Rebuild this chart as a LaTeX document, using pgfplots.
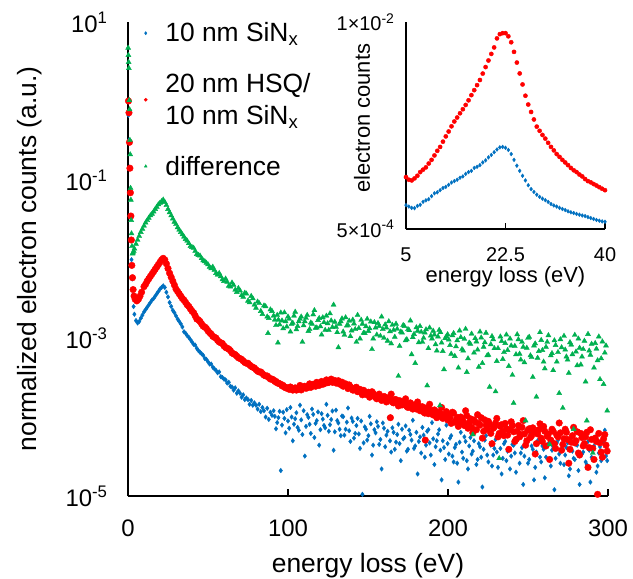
\documentclass[border=0pt]{standalone}
\usepackage{fontspec}
\setmainfont{Liberation Sans}
\usepackage{pgfplots}
\usepackage{pgfplotstable}
\pgfplotsset{compat=1.18}
\definecolor{sblue}{RGB}{0,112,192}
\definecolor{sred}{RGB}{255,0,0}
\definecolor{sgreen}{RGB}{0,176,80}

% main spectra: 10 nm SiNx
\pgfplotstableread{
x y
0.3 0.66
0.6 0.32
0.9 0.145
1.2 0.071
1.5 0.034
1.8 0.0174
2.2 0.0098
2.6 5.6e-3
3.0 3.5e-3
3.5 2.5e-3
4 2.0e-3
5 1.66e-3
6 1.55e-3
7 1.62e-3
8 1.78e-3
9 1.95e-3
10 2.14e-3
11 2.29e-3
12 2.45e-3
13 2.63e-3
14 2.82e-3
15 3.02e-3
16 3.16e-3
17 3.39e-3
18 3.63e-3
19 3.89e-3
20 4.17e-3
21 4.37e-3
22 4.57e-3
23 4.37e-3
24 3.80e-3
25 3.31e-3
26 2.82e-3
27 2.51e-3
28 2.24e-3
29 2.09e-3
30 1.91e-3
31 1.74e-3
32 1.62e-3
33 1.51e-3
34 1.38e-3
35 1.20e-3
36 1.15e-3
37 1.07e-3
38 1.02e-3
39 9.55e-4
40 8.91e-4
41 8.32e-4
42 8.13e-4
43 7.41e-4
44 6.92e-4
45 6.61e-4
46 6.31e-4
47 6.03e-4
48 5.50e-4
49 5.37e-4
50 5.01e-4
51 4.68e-4
52 4.68e-4
53 4.27e-4
54 4.07e-4
55 3.89e-4
56 3.63e-4
57 3.72e-4
58 3.24e-4
59 3.16e-4
60 3.02e-4
61 2.95e-4
62 2.69e-4
63 2.75e-4
64 2.45e-4
65 2.40e-4
66 2.19e-4
67 2.34e-4
68 2.00e-4
69 2.14e-4
70 2.00e-4
71 1.78e-4
72 1.91e-4
73 1.66e-4
74 1.74e-4
75 1.66e-4
76 1.45e-4
77 1.62e-4
78 1.41e-4
79 1.51e-4
80 1.41e-4
81 1.26e-4
82 1.45e-4
83 1.17e-4
84 1.32e-4
85 1.20e-4
86 1.00e-4
87 1.29e-4
88 9.33e-5
89 1.15e-4
90 1.05e-4
91 12.0e-5
92.5 7.1e-5
94 9.8e-5
95.5 2.1e-5
97 11.5e-5
98.5 6.3e-5
100 8.9e-5
101.5 13.2e-5
103 5.0e-5
104.5 9.5e-5
106 7.4e-5
107.5 14.1e-5
109 6.0e-5
110.5 3.2e-5
112 10.7e-5
113.5 8.1e-5
115 12.6e-5
116.5 5.5e-5
118 9.0e-5
119.5 4.4e-5
121 11.0e-5
122.5 7.8e-5
124 14.5e-5
125.5 6.6e-5
127 9.3e-5
128.5 3.8e-5
130 12.2e-5
131.5 8.4e-5
133 5.8e-5
134.5 10.1e-5
136 7.0e-5
137.5 13.0e-5
139 4.9e-5
140.5 8.8e-5
142 6.2e-5
143.5 9.6e-5
145 4.0e-5
146.5 1.05e-5
148 7.5e-5
149.5 5.1e-5
151 10.2e-5
152.5 3.3e-5
154 6.9e-5
155.5 8.7e-5
157 4.5e-5
158.5 2.2e-5
160 7.2e-5
161.5 5.9e-5
163 9.8e-5
164.5 3.6e-5
166 6.4e-5
167.5 4.8e-5
169 8.1e-5
170.5 2.8e-5
172 5.3e-5
173.5 7.7e-5
175 3.9e-5
176.5 6.0e-5
178 9.1e-5
179.5 4.3e-5
181 1.9e-5
182.5 5.6e-5
184 7.4e-5
185.5 3.1e-5
187 6.6e-5
188.5 4.7e-5
190 8.5e-5
191.5 2.5e-5
193 5.0e-5
194.5 6.9e-5
196 1.6e-5
197.5 4.1e-5
199 7.9e-5
200.5 3.4e-5
202 5.8e-5
203.5 2.7e-5
205 4.5e-5
206.5 1.5e-5
208 6.4e-5
209.5 3.0e-5
211 4.9e-5
212.5 2.2e-5
214 5.5e-5
215.5 3.7e-5
217 7.0e-5
218.5 2.9e-5
220 4.2e-5
221.5 1.3e-5
223 5.1e-5
224.5 3.3e-5
226 6.2e-5
227.5 2.4e-5
229 4.0e-5
230.5 3.6e-5
232 5.7e-5
233.5 1.9e-5
235 4.6e-5
236.5 2.8e-5
238 6.6e-5
239.5 3.2e-5
241 4.4e-5
242.5 2.0e-5
244 5.3e-5
245.5 3.5e-5
247 1.4e-5
248.5 4.8e-5
250 2.6e-5
251.5 6.0e-5
253 3.9e-5
254.5 2.3e-5
256 5.0e-5
257.5 3.1e-5
259 4.3e-5
260.5 1.7e-5
262 5.9e-5
263.5 2.9e-5
265 3.8e-5
266.5 1.2e-5
268 4.7e-5
269.5 3.4e-5
271 6.3e-5
272.5 2.5e-5
274 4.1e-5
275.5 1.8e-5
277 5.4e-5
278.5 3.0e-5
280 4.5e-5
281.5 2.1e-5
283 6.1e-5
284.5 3.6e-5
286 2.7e-5
287.5 4.9e-5
289 1.5e-5
290.5 3.9e-5
292 5.6e-5
293.5 2.4e-5
295 4.2e-5
296.5 3.3e-5
298 6.8e-5
299.5 2.8e-5
}\sinx

% 10 nm SiNx, interleaved channels of the noisy tail
\pgfplotstableread{
x y
91.75 10.2e-5
93.25 8.5e-5
94.75 11.8e-5
96.25 7.9e-5
97.75 9.6e-5
99.25 12.4e-5
100.75 7.2e-5
102.25 10.0e-5
103.75 8.1e-5
105.25 11.3e-5
106.75 6.8e-5
108.25 9.2e-5
109.75 12.0e-5
111.25 7.6e-5
112.75 9.9e-5
114.25 6.2e-5
115.75 10.8e-5
117.25 8.3e-5
118.75 11.6e-5
120.25 6.9e-5
121.75 9.4e-5
123.25 7.3e-5
124.75 10.5e-5
126.25 8.0e-5
127.75 11.9e-5
129.25 6.5e-5
130.75 9.0e-5
132.25 7.0e-5
133.75 10.3e-5
135.25 5.9e-5
136.75 8.6e-5
138.25 6.7e-5
139.75 9.7e-5
141.25 5.4e-5
142.75 7.8e-5
144.25 6.1e-5
145.75 8.9e-5
147.25 4.7e-5
148.75 7.0e-5
150.25 5.8e-5
151.75 8.2e-5
153.25 4.4e-5
154.75 6.3e-5
156.25 7.6e-5
157.75 5.2e-5
159.25 8.4e-5
160.75 4.2e-5
162.25 6.6e-5
163.75 5.0e-5
165.25 7.3e-5
166.75 3.9e-5
168.25 6.0e-5
169.75 4.6e-5
171.25 7.0e-5
172.75 5.5e-5
174.25 3.7e-5
175.75 6.8e-5
177.25 5.1e-5
178.75 4.0e-5
180.25 6.4e-5
181.75 4.9e-5
183.25 3.5e-5
184.75 5.9e-5
186.25 4.4e-5
187.75 6.9e-5
189.25 3.3e-5
190.75 5.3e-5
192.25 4.2e-5
193.75 6.1e-5
195.25 3.8e-5
196.75 5.0e-5
198.25 2.9e-5
199.75 4.6e-5
201.25 5.4e-5
202.75 3.2e-5
204.25 4.1e-5
205.75 2.6e-5
207.25 4.8e-5
208.75 3.6e-5
210.25 5.6e-5
211.75 2.8e-5
213.25 4.3e-5
214.75 3.4e-5
216.25 5.0e-5
217.75 2.5e-5
219.25 4.6e-5
220.75 3.1e-5
222.25 3.9e-5
223.75 5.8e-5
225.25 2.7e-5
226.75 4.4e-5
228.25 3.3e-5
229.75 5.2e-5
231.25 2.3e-5
232.75 4.0e-5
234.25 3.0e-5
235.75 4.9e-5
237.25 3.7e-5
238.75 2.2e-5
240.25 4.5e-5
241.75 3.5e-5
243.25 5.4e-5
244.75 2.6e-5
246.25 4.1e-5
247.75 3.2e-5
249.25 4.7e-5
250.75 2.9e-5
252.25 4.3e-5
253.75 1.6e-5
255.25 3.6e-5
256.75 4.8e-5
258.25 2.7e-5
259.75 3.9e-5
261.25 3.1e-5
262.75 4.6e-5
264.25 2.4e-5
265.75 4.2e-5
267.25 3.0e-5
268.75 5.1e-5
270.25 2.6e-5
271.75 3.8e-5
273.25 3.3e-5
274.75 4.7e-5
276.25 2.2e-5
277.75 3.7e-5
279.25 2.9e-5
280.75 4.4e-5
282.25 1.4e-5
283.75 3.4e-5
285.25 4.6e-5
286.75 2.5e-5
288.25 3.8e-5
289.75 3.1e-5
291.25 4.3e-5
292.75 2.0e-5
294.25 3.5e-5
295.75 2.8e-5
297.25 4.9e-5
298.75 3.2e-5
}\sinxb

% main spectra: 20 nm HSQ / 10 nm SiNx
\pgfplotstableread{
x y
0.3 1.0
0.6 0.71
0.9 0.30
1.2 0.141
1.5 0.069
1.8 0.035
2.1 0.0174
2.4 8.3e-3
2.8 5.8e-3
3.2 4.1e-3
3.8 3.39e-3
4.5 3.09e-3
5.5 2.95e-3
6.5 3.09e-3
7.5 3.39e-3
8.5 3.80e-3
10 4.47e-3
11 4.79e-3
12 5.25e-3
13 5.62e-3
14 6.03e-3
15 6.46e-3
16 6.92e-3
17 7.41e-3
18 7.94e-3
19 8.51e-3
20 9.12e-3
21 9.77e-3
22 1.02e-2
23 9.77e-3
24 8.71e-3
25 7.59e-3
26 6.61e-3
27 5.89e-3
28 5.25e-3
29 4.68e-3
30 4.17e-3
31 3.89e-3
32 3.63e-3
33 3.39e-3
34 3.16e-3
35 3.02e-3
36 2.82e-3
37 2.63e-3
38 2.51e-3
39 2.34e-3
40 2.19e-3
41 2.09e-3
42 1.91e-3
43 1.74e-3
44 1.70e-3
45 1.62e-3
46 1.51e-3
47 1.41e-3
48 1.38e-3
49 1.32e-3
50 1.23e-3
51 1.17e-3
52 1.12e-3
53 1.05e-3
54 1.02e-3
55 1.00e-3
56 9.33e-4
57 8.91e-4
58 8.71e-4
59 8.51e-4
60 7.94e-4
61 7.59e-4
62 7.41e-4
63 7.24e-4
64 6.92e-4
65 6.46e-4
66 6.31e-4
67 6.17e-4
68 5.89e-4
69 5.62e-4
70 5.50e-4
71 5.37e-4
72 5.13e-4
73 4.90e-4
74 4.79e-4
75 4.79e-4
76 4.57e-4
77 4.37e-4
78 4.27e-4
79 4.17e-4
80 3.98e-4
81 3.80e-4
82 3.72e-4
83 3.72e-4
84 3.55e-4
85 3.39e-4
86 3.31e-4
87 3.31e-4
88 3.16e-4
89 3.02e-4
90 3.02e-4
91 2.95e-4
92.5 2.82e-4
94 2.69e-4
95.5 2.60e-4
97 2.51e-4
98.5 2.34e-4
100 2.29e-4
101.5 2.40e-4
103 2.19e-4
104.5 2.34e-4
106 2.24e-4
107.5 2.51e-4
109 2.29e-4
110.5 2.45e-4
112 2.34e-4
113.5 2.63e-4
115 2.45e-4
116.5 2.57e-4
118 2.75e-4
119.5 2.51e-4
121 2.82e-4
122.5 2.63e-4
124 2.95e-4
125.5 2.75e-4
127 3.02e-4
128.5 2.82e-4
130 2.69e-4
131.5 2.88e-4
133 2.57e-4
134.5 2.45e-4
136 2.63e-4
137.5 2.29e-4
139 2.40e-4
140.5 2.19e-4
142 2.34e-4
143.5 2.09e-4
145 2.24e-4
146.5 1.91e-4
148 2.09e-4
149.5 2.00e-4
151 1.78e-4
152.5 2.09e-4
154 1.86e-4
155.5 1.70e-4
157 1.95e-4
158.5 1.62e-4
160 1.82e-4
161.5 1.55e-4
163 1.74e-4
164 9.8e-5
164.5 1.95e-4
166 1.51e-4
167.5 1.66e-4
169 1.38e-4
170.5 1.58e-4
172 1.45e-4
173.5 1.70e-4
175 1.32e-4
176.5 1.51e-4
178 1.26e-4
179.5 1.41e-4
181 1.55e-4
182.5 1.20e-4
184 1.35e-4
185.5 1.12e-4
185.8 5.1e-5
187 1.29e-4
188.5 1.45e-4
190 1.10e-4
191.5 1.23e-4
193 0.98e-4
194.5 1.15e-4
196 1.32e-4
197.5 1.02e-4
199 1.17e-4
200.5 10.5e-5
202 8.3e-5
203.5 11.2e-5
205 9.1e-5
206.5 7.6e-5
208 10.0e-5
209.5 8.8e-5
211 12.0e-5
212.5 7.2e-5
214 9.5e-5
215.5 6.3e-5
217 8.6e-5
218.5 10.7e-5
220 7.9e-5
221.5 5.4e-5
223 9.2e-5
224.5 7.0e-5
226 8.1e-5
227.5 4.6e-5
229 7.5e-5
230.5 9.6e-5
232 6.2e-5
233.5 8.0e-5
235 5.8e-5
236.5 7.1e-5
238 3.9e-5
239.5 8.7e-5
241 6.5e-5
242.5 5.2e-5
244 7.8e-5
245.5 6.0e-5
247 9.0e-5
248.5 4.4e-5
250 6.8e-5
251.5 5.5e-5
253 7.3e-5
254.5 3.4e-5
256 6.1e-5
257.5 8.2e-5
259 4.9e-5
260.5 6.6e-5
262 5.7e-5
263.5 2.9e-5
265 7.0e-5
266.5 4.6e-5
268 5.9e-5
269.5 8.4e-5
271 3.8e-5
272.5 5.3e-5
274 6.4e-5
275.5 2.6e-5
277 4.8e-5
278.5 7.4e-5
280 5.0e-5
281.5 3.5e-5
283 6.2e-5
284.5 4.3e-5
286 5.6e-5
287.5 2.3e-5
289 6.9e-5
290.5 4.0e-5
292 5.4e-5
293.5 1.05e-5
295 4.7e-5
296.5 3.1e-5
298 6.0e-5
299.5 3.7e-5
}\hsq

% 20 nm HSQ / 10 nm SiNx, interleaved channels
\pgfplotstableread{
x y
91.75 28.2e-5
93.25 27.0e-5
94.75 26.3e-5
96.25 24.8e-5
97.75 24.0e-5
99.25 23.6e-5
100.75 22.4e-5
102.25 23.0e-5
103.75 22.6e-5
105.25 21.9e-5
106.75 23.3e-5
108.25 22.0e-5
109.75 24.0e-5
111.25 23.1e-5
112.75 24.8e-5
114.25 23.7e-5
115.75 26.0e-5
117.25 24.5e-5
118.75 26.3e-5
120.25 27.0e-5
121.75 26.0e-5
123.25 28.0e-5
124.75 27.2e-5
126.25 28.8e-5
127.75 27.5e-5
129.25 29.0e-5
130.75 27.0e-5
132.25 26.3e-5
133.75 27.6e-5
135.25 25.0e-5
136.75 24.5e-5
138.25 25.5e-5
139.75 23.2e-5
141.25 22.0e-5
142.75 23.8e-5
144.25 21.5e-5
145.75 20.4e-5
147.25 21.8e-5
148.75 19.3e-5
150.25 20.6e-5
151.75 18.8e-5
153.25 19.9e-5
154.75 17.6e-5
156.25 18.5e-5
157.75 17.9e-5
159.25 16.8e-5
160.75 17.9e-5
162.25 16.2e-5
163.75 17.0e-5
165.25 15.4e-5
166.75 16.6e-5
168.25 15.0e-5
169.75 16.1e-5
171.25 14.2e-5
172.75 15.5e-5
174.25 13.6e-5
175.75 14.6e-5
177.25 13.1e-5
178.75 14.2e-5
180.25 12.6e-5
181.75 13.8e-5
183.25 12.3e-5
184.75 11.6e-5
186.25 13.0e-5
187.75 11.0e-5
189.25 12.2e-5
190.75 10.6e-5
192.25 11.8e-5
193.75 10.2e-5
195.25 11.0e-5
196.75 9.6e-5
198.25 10.8e-5
199.75 9.2e-5
201.25 9.8e-5
202.75 11.5e-5
204.25 8.6e-5
205.75 9.9e-5
207.25 8.2e-5
208.75 9.4e-5
210.25 7.8e-5
211.75 10.4e-5
213.25 8.5e-5
214.75 7.4e-5
216.25 9.2e-5
217.75 6.9e-5
219.25 8.3e-5
220.75 9.8e-5
222.25 6.6e-5
223.75 7.9e-5
225.25 8.8e-5
226.75 6.2e-5
228.25 7.2e-5
229.75 8.4e-5
231.25 5.6e-5
232.75 7.6e-5
234.25 6.5e-5
235.75 8.3e-5
237.25 5.9e-5
238.75 6.9e-5
240.25 7.8e-5
241.75 4.9e-5
243.25 6.6e-5
244.75 5.6e-5
246.25 7.4e-5
247.75 6.1e-5
249.25 5.0e-5
250.75 7.1e-5
252.25 5.8e-5
253.75 6.5e-5
255.25 4.6e-5
256.75 6.9e-5
258.25 5.4e-5
259.75 7.6e-5
261.25 4.3e-5
262.75 6.1e-5
264.25 5.1e-5
265.75 6.6e-5
267.25 4.0e-5
268.75 5.6e-5
270.25 6.3e-5
271.75 4.5e-5
273.25 7.0e-5
274.75 5.2e-5
276.25 3.9e-5
277.75 5.8e-5
279.25 4.7e-5
280.75 6.5e-5
282.25 3.3e-5
283.75 5.5e-5
285.25 4.6e-5
286.75 6.4e-5
288.25 4.1e-5
289.75 5.2e-5
291.25 2.9e-5
292.75 4.9e-5
294.25 6.2e-5
295.75 3.6e-5
297.25 5.3e-5
298.75 4.4e-5
}\hsqb

% main spectra: difference
\pgfplotstableread{
x y
0.1 4.7
0.25 3.8
0.4 3.1
0.55 2.6
0.8 1.02
1.0 0.78
1.2 0.32
1.4 0.21
1.6 0.079
1.8 0.056
2.0 0.031
2.2 0.021
2.5 0.0145
2.8 0.0117
3.2 0.0120
3.6 0.0126
4 1.35e-2
5 1.55e-2
6 1.74e-2
7 1.95e-2
8 2.19e-2
9 2.40e-2
10 2.63e-2
11 2.88e-2
12 3.09e-2
13 3.31e-2
14 3.55e-2
15 3.72e-2
16 3.98e-2
17 4.27e-2
18 4.57e-2
19 4.90e-2
20 5.13e-2
21 5.37e-2
22 5.62e-2
23 5.25e-2
24 4.79e-2
25 4.27e-2
26 3.89e-2
27 3.55e-2
28 3.24e-2
29 2.95e-2
30 2.75e-2
31 2.51e-2
32 2.34e-2
33 2.19e-2
34 2.04e-2
35 1.91e-2
36 1.78e-2
37 1.70e-2
38 1.58e-2
39 1.45e-2
40 1.41e-2
41 1.38e-2
42 1.26e-2
43 1.15e-2
44 1.12e-2
45 1.10e-2
46 1.02e-2
47 9.55e-3
48 9.33e-3
49 8.91e-3
50 8.51e-3
51 7.94e-3
52 7.59e-3
53 7.94e-3
54 7.24e-3
55 6.61e-3
56 6.31e-3
57 6.61e-3
58 6.03e-3
59 5.50e-3
60 5.25e-3
61 5.62e-3
62 5.13e-3
63 4.57e-3
64 4.47e-3
65 5.01e-3
66 4.68e-3
67 4.07e-3
68 3.80e-3
69 4.27e-3
70 3.98e-3
71 3.47e-3
72 3.31e-3
73 3.72e-3
74 3.63e-3
75 2.95e-3
76 2.82e-3
77 3.39e-3
78 3.16e-3
79 2.63e-3
80 2.40e-3
81 2.88e-3
82 2.75e-3
83 2.19e-3
84 2.00e-3
85 2.57e-3
86 2.51e-3
87 1.86e-3
87.5 1.15e-3
88 1.78e-3
89 2.29e-3
90 2.19e-3
91 1.91e-3
92.5 1.45e-3
93.7 8.7e-4
94 1.70e-3
95.5 2.09e-3
97 1.32e-3
98.5 1.62e-3
100 1.86e-3
101.5 1.20e-3
103 1.55e-3
104.5 2.14e-3
106 1.41e-3
107.5 1.74e-3
109 0.89e-3
110.5 1.62e-3
112 1.95e-3
113.5 1.29e-3
115 1.51e-3
116.5 2.24e-3
118 1.35e-3
119.5 1.78e-3
121 1.10e-3
122.5 1.58e-3
124 1.91e-3
125.5 1.26e-3
127 1.66e-3
128.5 2.63e-3
130 1.38e-3
131.5 0.76e-3
133 1.62e-3
134.5 1.20e-3
136 1.82e-3
137.5 1.45e-3
139 1.05e-3
140.5 1.70e-3
142 1.29e-3
143.5 1.95e-3
145 0.98e-3
146.5 1.51e-3
148 1.15e-3
149.5 1.74e-3
151 1.32e-3
152.5 0.72e-3
154 1.58e-3
155.5 1.10e-3
157 1.41e-3
158.5 1.86e-3
160 1.00e-3
161.5 1.35e-3
163 1.62e-3
164.5 0.85e-3
166 1.26e-3
167.5 1.51e-3
169 0.33e-3
170.5 1.20e-3
172 1.45e-3
173.5 0.93e-3
175 1.29e-3
176.5 1.66e-3
178 1.02e-3
179.5 0.48e-3
181 1.23e-3
182.5 1.41e-3
184 0.89e-3
185.5 1.17e-3
187 0.25e-3
188.5 1.35e-3
190 0.98e-3
191.5 1.10e-3
193 0.69e-3
194.5 1.26e-3
195 1.4e-4
196 0.87e-3
197.5 0.40e-3
199 1.05e-3
200.5 9.5e-4
202 6.3e-4
203.5 11.5e-4
205 7.8e-4
206.5 4.2e-4
208 10.2e-4
209.5 6.9e-4
211 13.0e-4
212.5 5.5e-4
214 8.4e-4
215.5 0.6e-4
217 9.9e-4
218.5 7.1e-4
220 12.0e-4
221.5 4.8e-4
223 8.8e-4
224.5 6.0e-4
226 2.4e-4
227.5 10.5e-4
229 7.4e-4
230.5 5.1e-4
232 0.3e-4
233.5 9.1e-4
235 6.6e-4
236.5 11.0e-4
238 4.4e-4
239.5 8.0e-4
241 1.5e-4
242.5 6.2e-4
244 9.6e-4
245.5 5.3e-4
247 7.7e-4
248.5 0.9e-4
250 10.0e-4
251.5 6.0e-4
253 3.2e-4
254.5 8.5e-4
256 5.6e-4
257.5 11.8e-4
259 7.0e-4
260.5 4.1e-4
262 8.9e-4
263.5 0.45e-4
265 6.4e-4
266.5 9.3e-4
268 5.0e-4
269.5 2.0e-4
271 7.6e-4
272.5 10.6e-4
274 5.8e-4
275.5 3.6e-4
277 8.2e-4
278.5 0.7e-4
280 6.7e-4
281.5 9.8e-4
283 4.6e-4
284.5 7.2e-4
286 2.8e-4
287.5 11.2e-4
289 6.1e-4
290.5 0.35e-4
292 8.6e-4
293.5 5.2e-4
295 3.0e-4
296.5 9.0e-4
298 6.5e-4
299.5 1.2e-4
}\diff

% difference, interleaved channels
\pgfplotstableread{
x y
91.75 17.0e-4
93.25 19.5e-4
94.75 14.8e-4
96.25 16.6e-4
97.75 21.0e-4
99.25 13.9e-4
100.75 17.4e-4
102.25 15.0e-4
103.75 19.1e-4
105.25 12.8e-4
106.75 16.2e-4
108.25 18.6e-4
109.75 14.4e-4
111.25 17.9e-4
112.75 12.2e-4
114.25 15.6e-4
115.75 19.8e-4
117.25 13.4e-4
118.75 16.8e-4
120.25 14.0e-4
121.75 18.2e-4
123.25 12.6e-4
124.75 15.3e-4
126.25 20.4e-4
127.75 13.7e-4
129.25 16.0e-4
130.75 11.8e-4
132.25 15.1e-4
133.75 17.6e-4
135.25 10.9e-4
136.75 14.3e-4
138.25 16.5e-4
139.75 12.4e-4
141.25 15.2e-4
142.75 8.9e-4
144.25 13.3e-4
145.75 16.9e-4
147.25 11.6e-4
148.75 14.0e-4
150.25 12.2e-4
151.75 16.1e-4
153.25 9.8e-4
154.75 13.5e-4
156.25 15.4e-4
157.75 10.6e-4
159.25 12.9e-4
160.75 14.8e-4
162.25 9.2e-4
163.75 12.1e-4
165.25 14.6e-4
166.75 10.3e-4
168.25 13.0e-4
169.75 7.9e-4
171.25 11.7e-4
172.75 14.1e-4
174.25 9.6e-4
175.75 12.5e-4
177.25 6.2e-4
178.75 11.2e-4
180.25 13.6e-4
181.75 8.8e-4
183.25 11.9e-4
184.75 10.0e-4
186.25 12.8e-4
187.75 7.4e-4
189.25 10.7e-4
190.75 12.3e-4
192.25 8.3e-4
193.75 10.4e-4
195.25 11.8e-4
196.75 6.8e-4
198.25 9.9e-4
199.75 11.1e-4
201.25 8.1e-4
202.75 10.8e-4
204.25 5.9e-4
205.75 9.3e-4
207.25 12.4e-4
208.75 7.2e-4
210.25 9.7e-4
211.75 3.7e-4
213.25 8.7e-4
214.75 11.3e-4
216.25 6.5e-4
217.75 9.0e-4
219.25 4.3e-4
220.75 10.1e-4
222.25 7.7e-4
223.75 11.6e-4
225.25 6.1e-4
226.75 8.3e-4
228.25 9.6e-4
229.75 2.1e-4
231.25 7.4e-4
232.75 10.4e-4
234.25 5.4e-4
235.75 8.6e-4
237.25 7.0e-4
238.75 9.8e-4
240.25 3.4e-4
241.75 7.9e-4
243.25 11.1e-4
244.75 6.3e-4
246.25 8.9e-4
247.75 4.9e-4
249.25 7.5e-4
250.75 10.3e-4
252.25 5.7e-4
253.75 8.0e-4
255.25 1.8e-4
256.75 6.8e-4
258.25 9.4e-4
259.75 5.0e-4
261.25 7.7e-4
262.75 10.8e-4
264.25 6.0e-4
265.75 3.9e-4
267.25 8.1e-4
268.75 6.6e-4
270.25 9.6e-4
271.75 1.3e-4
273.25 7.1e-4
274.75 5.3e-4
276.25 8.8e-4
277.75 6.2e-4
279.25 10.9e-4
280.75 4.5e-4
282.25 7.5e-4
283.75 5.8e-4
285.25 9.2e-4
286.75 0.9e-4
288.25 6.9e-4
289.75 8.4e-4
291.25 4.2e-4
292.75 7.3e-4
294.25 10.4e-4
295.75 5.5e-4
297.25 2.6e-4
298.75 8.0e-4
}\diffb

% inset, 5-40 eV
\pgfplotstableread{
x y
5.0 7.06e-4
5.5 6.92e-4
6.0 6.79e-4
6.5 6.76e-4
7.0 6.98e-4
7.5 7.10e-4
8.0 7.41e-4
8.5 7.57e-4
9.0 7.70e-4
9.5 8.04e-4
10.0 8.38e-4
10.5 8.50e-4
11.0 8.77e-4
11.5 9.05e-4
12.0 9.20e-4
12.5 9.48e-4
13.0 9.80e-4
13.5 1.00e-3
14.0 1.02e-3
14.5 1.05e-3
15.0 1.07e-3
15.5 1.11e-3
16.0 1.14e-3
16.5 1.16e-3
17.0 1.21e-3
17.5 1.23e-3
18.0 1.26e-3
18.5 1.31e-3
19.0 1.35e-3
19.5 1.41e-3
20.0 1.46e-3
20.5 1.52e-3
21.0 1.58e-3
21.5 1.63e-3
22.0 1.64e-3
22.5 1.62e-3
23.0 1.57e-3
23.5 1.48e-3
24.0 1.36e-3
24.5 1.25e-3
25.0 1.16e-3
25.5 1.08e-3
26.0 1.01e-3
26.5 9.42e-4
27.0 8.91e-4
27.5 8.55e-4
28.0 8.22e-4
28.5 7.96e-4
29.0 7.76e-4
29.5 7.59e-4
30.0 7.40e-4
30.5 7.18e-4
31.0 7.03e-4
31.5 6.92e-4
32.0 6.79e-4
32.5 6.68e-4
33.0 6.58e-4
33.5 6.46e-4
34.0 6.37e-4
34.5 6.30e-4
35.0 6.22e-4
35.5 6.15e-4
36.0 6.08e-4
36.5 6.03e-4
37.0 5.94e-4
37.5 5.86e-4
38.0 5.78e-4
38.5 5.70e-4
39.0 5.64e-4
39.5 5.58e-4
40.0 5.55e-4
}\insetsinx

\pgfplotstableread{
x y
5.0 1.06e-3
5.5 1.02e-3
6.0 1.01e-3
6.5 1.04e-3
7.0 1.08e-3
7.5 1.14e-3
8.0 1.18e-3
8.5 1.22e-3
9.0 1.29e-3
9.5 1.36e-3
10.0 1.45e-3
10.5 1.55e-3
11.0 1.64e-3
11.5 1.77e-3
12.0 1.91e-3
12.5 2.05e-3
13.0 2.21e-3
13.5 2.37e-3
14.0 2.51e-3
14.5 2.67e-3
15.0 2.83e-3
15.5 3.01e-3
16.0 3.22e-3
16.5 3.47e-3
17.0 3.73e-3
17.5 4.01e-3
18.0 4.32e-3
18.5 4.74e-3
19.0 5.21e-3
19.5 5.73e-3
20.0 6.30e-3
20.5 6.92e-3
21.0 7.89e-3
21.5 8.39e-3
22.0 8.51e-3
22.5 8.51e-3
23.0 8.13e-3
23.5 7.46e-3
24.0 6.49e-3
24.5 5.56e-3
25.0 4.75e-3
25.5 4.05e-3
26.0 3.44e-3
26.5 3.03e-3
27.0 2.72e-3
27.5 2.44e-3
28.0 2.20e-3
28.5 2.07e-3
29.0 1.95e-3
29.5 1.85e-3
30.0 1.74e-3
30.5 1.64e-3
31.0 1.56e-3
31.5 1.48e-3
32.0 1.42e-3
32.5 1.36e-3
33.0 1.31e-3
33.5 1.26e-3
34.0 1.21e-3
34.5 1.17e-3
35.0 1.14e-3
35.5 1.10e-3
36.0 1.07e-3
36.5 1.03e-3
37.0 1.00e-3
37.5 9.82e-4
38.0 9.59e-4
38.5 9.38e-4
39.0 9.16e-4
39.5 8.95e-4
40.0 8.77e-4
}\insethsq

\begin{document}
\begin{tikzpicture}
\useasboundingbox (0bp,0bp) rectangle (633bp,579bp);

\begin{axis}[
  at={(128bp,83bp)}, anchor=south west,
  scale only axis, width=480bp, height=474bp,
  ymode=log, xmin=0, xmax=300, ymin=1e-5, ymax=10,
  clip=false,
  axis lines=left, axis line style={-, line width=1.6bp},
  tick align=inside, major tick length=7bp,
  every tick/.style={black, line width=1.4bp},
  ytick style={draw=none},
  xtick={0,100,200,300}, xticklabels={0,100,200,300},
  ytick={1e-5,1e-3,1e-1,10},
  yticklabels={10\textsuperscript{-5},10\textsuperscript{-3},10\textsuperscript{-1},10\textsuperscript{1}},
  minor ytick={}, yminorticks=false,
  tick label style={font=\fontsize{24}{28}\selectfont},
  xticklabel style={anchor=center, yshift=-32bp},
  yticklabel style={anchor=east, xshift=-17bp},
  xlabel={energy loss (eV)},
  ylabel={normalized electron counts (a.u.)},
  label style={font=\fontsize{26.5}{30}\selectfont},
  xlabel style={at={(axis description cs:0.5,0)}, anchor=center, yshift=-70bp},
  ylabel style={at={(axis description cs:-0.204,0.5)}, anchor=center},
  legend cell align=left,
  legend style={at={(axis description cs:0.027,1.007)}, anchor=north west,
    draw=none, fill=none, font=\fontsize{26.5}{32}\selectfont,
    cells={align=left}, row sep=26bp,
    /tikz/every odd column/.append style={column sep=16bp}},
  legend image post style={mark size=1.6bp},
]
\addplot[only marks, mark=diamond*, color=sblue, mark size=2.3bp] table {\sinx};
\addlegendentry{10 nm SiN\textsubscript{x}}
\addplot[only marks, mark=diamond*, color=sblue, mark size=2.3bp, forget plot] table {\sinxb};
\addplot[only marks, mark=*, color=sred, mark size=3.3bp] table {\hsq};
\addlegendentry{20 nm HSQ/\\10 nm SiN\textsubscript{x}}
\addplot[only marks, mark=*, color=sred, mark size=3.3bp, forget plot] table {\hsqb};
\addplot[only marks, mark=triangle*, color=sgreen, mark size=2.9bp] table {\diff};
\addlegendentry{difference}
\addplot[only marks, mark=triangle*, color=sgreen, mark size=2.9bp, forget plot] table {\diffb};
\end{axis}

\begin{axis}[
  at={(406bp,350bp)}, anchor=south west,
  scale only axis, width=199bp, height=207bp,
  ymode=log, xmin=5, xmax=40, ymin=5e-4, ymax=1e-2,
  clip=false,
  axis lines=left, axis line style={-, line width=1.5bp},
  tick align=inside, major tick length=6bp,
  every tick/.style={black, line width=1.3bp},
  ytick style={draw=none},
  xtick={5,22.5,40}, xticklabels={5,22.5,40},
  ytick={5e-4,1e-2},
  yticklabels={5×10\textsuperscript{-4},1×10\textsuperscript{-2}},
  minor ytick={}, yminorticks=false,
  tick label style={font=\fontsize{20}{24}\selectfont},
  xticklabel style={anchor=center, yshift=-26bp},
  yticklabel style={anchor=east, xshift=-8bp},
  xlabel={energy loss (eV)},
  ylabel={electron counts},
  label style={font=\fontsize{22}{26}\selectfont},
  xlabel style={at={(axis description cs:0.5,0)}, anchor=center, yshift=-48bp},
  ylabel style={at={(axis description cs:-0.221,0.536)}, anchor=center},
]
\addplot[only marks, mark=diamond*, color=sblue, mark size=1.9bp] table {\insetsinx};
\addplot[only marks, mark=*, color=sred, mark size=2.1bp] table {\insethsq};
\end{axis}
\end{tikzpicture}
\end{document}
